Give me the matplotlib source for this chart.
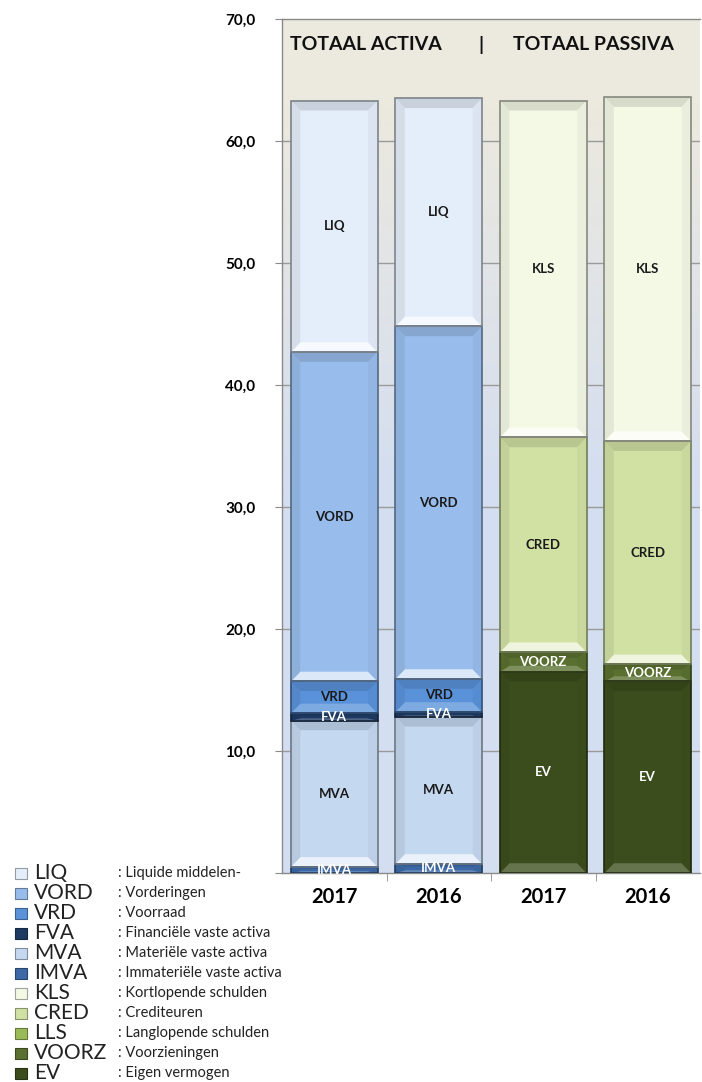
import numpy as np
import matplotlib
matplotlib.use("Agg")
import matplotlib.pyplot as plt
from matplotlib.patches import Polygon, Rectangle
from matplotlib.colors import to_rgb

plt.rcParams['font.family'] = ['Lato', 'DejaVu Sans']

# ---------------- data ----------------
categories = ['2017', '2016', '2017', '2016']
IMVA = [0.5, 0.75, 0.0, 0.0]
MVA = [12.0, 12.05, 0.0, 0.0]
FVA = [0.6, 0.4, 0.0, 0.0]
VRD = [2.6, 2.7, 0.0, 0.0]
VORD = [27.0, 28.9, 0.0, 0.0]
LIQ = [20.6, 18.7, 0.0, 0.0]
EV = [0.0, 0.0, 16.5, 15.7]
VOORZ = [0.0, 0.0, 1.6, 1.4]
LLS = [0.0, 0.0, 0.0, 0.0]
CRED = [0.0, 0.0, 17.6, 18.3]
KLS = [0.0, 0.0, 27.6, 28.2]

yticks = [0, 10, 20, 30, 40, 50, 60, 70]

legend_codes = ['LIQ', 'VORD', 'VRD', 'FVA', 'MVA', 'IMVA', 'KLS', 'CRED', 'LLS', 'VOORZ', 'EV']
legend_desc = [': Liquide middelen-', ': Vorderingen', ': Voorraad', ': Financiële vaste activa',
               ': Materiële vaste activa', ': Immateriële vaste activa', ': Kortlopende schulden',
               ': Crediteuren', ': Langlopende schulden', ': Voorzieningen', ': Eigen vermogen']

colors = {
    'LIQ': '#E4EEFA', 'VORD': '#98BDEC', 'VRD': '#5A92DA', 'FVA': '#1E3A62',
    'MVA': '#C4D8F0', 'IMVA': '#3C69A6', 'KLS': '#F4F9E6', 'CRED': '#D1E1A4',
    'LLS': '#9BBB59', 'VOORZ': '#5A7030', 'EV': '#3B4D1C',
}
text_colors = {'FVA': 'white', 'IMVA': 'white', 'VOORZ': 'white', 'EV': 'white', 'LLS': 'white'}

stack_order = [('IMVA', IMVA), ('MVA', MVA), ('FVA', FVA), ('VRD', VRD), ('VORD', VORD),
               ('LIQ', LIQ), ('EV', EV), ('VOORZ', VOORZ), ('LLS', LLS), ('CRED', CRED), ('KLS', KLS)]

# ---------------- figure ----------------
W, H = 702, 1082
fig = plt.figure(figsize=(W / 100, H / 100), dpi=100)
fig.patch.set_facecolor('white')
ax = fig.add_axes([282 / W, 1 - 873 / H, 418 / W, (873 - 19) / H])

# background gradient
top_c = np.array(to_rgb('#ECE9DE'))
bot_c = np.array(to_rgb('#D4DEF1'))
t = np.linspace(0, 1, 256)
f = np.clip((t - 0.45) / 0.45, 0, 1)
grad = (bot_c[None, :] * (1 - f[:, None]) + top_c[None, :] * f[:, None])
grad = np.repeat(grad[:, None, :], 2, axis=1)
ax.imshow(grad, extent=[0, 1, 0, 1], transform=ax.transAxes, origin='lower',
          aspect='auto', zorder=0)

x = np.arange(len(categories))
ax.set_xlim(-0.5, len(categories) - 0.5)
ax.set_ylim(0, 70)

for yv in yticks[1:-1]:
    ax.axhline(yv, color='#9A9A9A', lw=1.0, zorder=1)


def blend(c, other, a):
    c = np.array(to_rgb(c))
    o = np.array(to_rgb(other))
    return tuple(c * (1 - a) + o * a)


def lum(c):
    r, g, b = to_rgb(c)
    return 0.299 * r + 0.587 * g + 0.114 * b


def bevel(rect, color):
    x0, y0 = rect.get_x(), rect.get_y()
    w, h = rect.get_width(), rect.get_height()
    if h <= 0:
        return
    x1, y1 = x0 + w, y0 + h
    dx = 0.09
    dy = min(0.8, h * 0.3)
    light = 0.65 if lum(color) > 0.6 else 0.22
    polys = [
        ([(x0, y0), (x1, y0), (x1 - dx, y0 + dy), (x0 + dx, y0 + dy)], blend(color, 'white', light)),
        ([(x0, y1), (x1, y1), (x1 - dx, y1 - dy), (x0 + dx, y1 - dy)], blend(color, 'black', 0.12)),
        ([(x0, y0), (x0 + dx, y0 + dy), (x0 + dx, y1 - dy), (x0, y1)], blend(color, 'black', 0.07)),
        ([(x1, y0), (x1 - dx, y0 + dy), (x1 - dx, y1 - dy), (x1, y1)], blend(color, 'black', 0.04)),
    ]
    for pts, c in polys:
        ax.add_patch(Polygon(pts, closed=True, facecolor=c, edgecolor='none', zorder=3))
    ax.add_patch(Rectangle((x0, y0), w, h, facecolor='none',
                           edgecolor=blend(color, 'black', 0.45), lw=1.2, zorder=4))


bottom = np.zeros(len(categories))
for name, vals in stack_order:
    vals = np.array(vals, dtype=float)
    bars = ax.bar(x, vals, width=0.83, bottom=bottom, color=colors[name],
                  edgecolor='none', zorder=2)
    for rect, v in zip(bars, vals):
        if v > 0:
            bevel(rect, colors[name])
            ax.text(rect.get_x() + rect.get_width() / 2, rect.get_y() + v / 2, name,
                    ha='center', va='center', fontsize=9.5, fontweight='bold',
                    color=text_colors.get(name, '#1A1A1A'), zorder=5)
    bottom += vals

for side in ['left', 'top', 'right', 'bottom']:
    ax.spines[side].set_color('#8A8A8A')
    ax.spines[side].set_linewidth(1.0)
ax.spines['right'].set_visible(False)

ax.set_yticks(yticks)
ax.set_yticklabels(['' if v == 0 else f'{v:.1f}'.replace('.', ',') for v in yticks],
                   fontsize=11, fontweight='bold')
ax.tick_params(axis='y', length=5, color='#8A8A8A', pad=14, direction='out')
ax.set_xticks(x)
ax.set_xticklabels(categories, fontsize=14.5, fontweight='bold')
ax.tick_params(axis='x', length=0, pad=10)
ax.set_xticks(np.arange(0.5, len(categories) - 0.5), minor=True)
ax.tick_params(axis='x', which='minor', length=6, color='#8A8A8A', direction='out')

# header
hy = (873 - 45) / (873 - 19)
ax.text(0.02, hy, 'TOTAAL ACTIVA', transform=ax.transAxes, fontsize=14,
        fontweight='bold', ha='left', va='center', color='#111111', zorder=6)
ax.text(0.476, hy, '|', transform=ax.transAxes, fontsize=14,
        fontweight='bold', ha='center', va='center', color='#111111', zorder=6)
ax.text(0.553, hy, 'TOTAAL PASSIVA', transform=ax.transAxes, fontsize=14,
        fontweight='bold', ha='left', va='center', color='#111111', zorder=6)

# legend (manual)
y0_px, step_px = 873, 20.0
for i, (code, desc) in enumerate(zip(legend_codes, legend_desc)):
    yc = y0_px + i * step_px
    fy = 1 - yc / H
    c = colors[code]
    fig.patches.append(Rectangle((15 / W, fy - 5.5 / H), 12 / W, 11 / H, transform=fig.transFigure,
                                 facecolor=c, edgecolor=blend(c, 'black', 0.35), lw=0.8))
    fig.text(34 / W, fy, code, fontsize=15, ha='left', va='center', color='#222222')
    fig.text(118 / W, fy, desc, fontsize=10.5, ha='left', va='center', color='#222222')

fig.savefig('out.png', dpi=100)
